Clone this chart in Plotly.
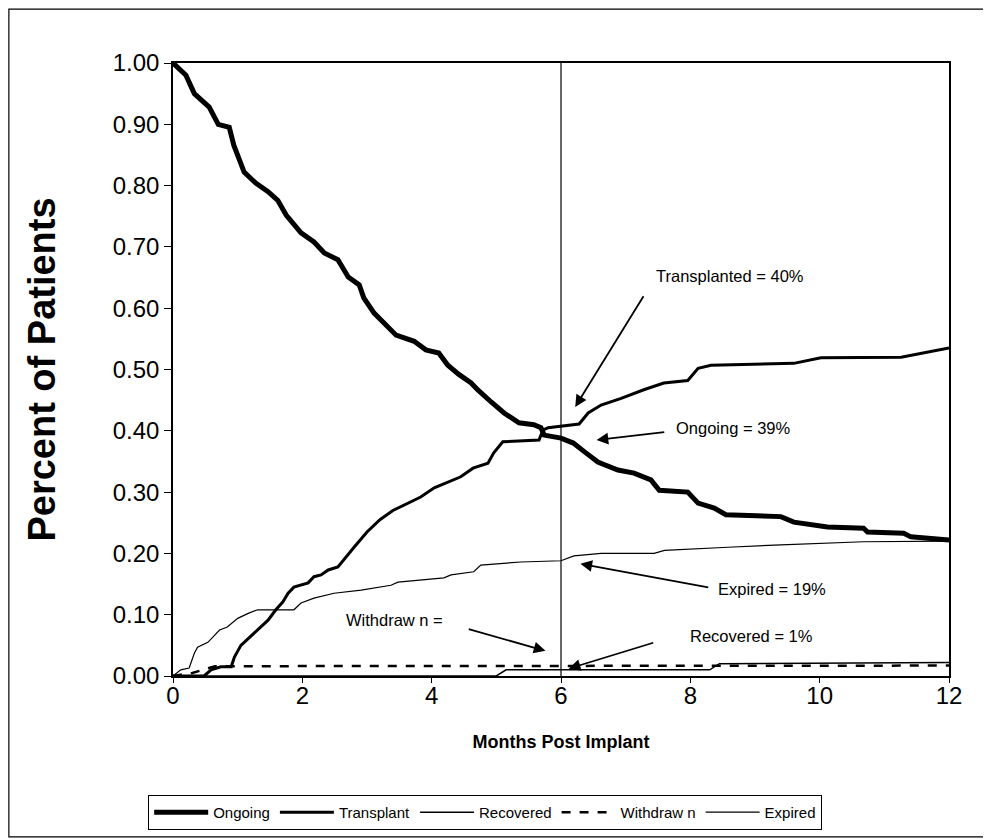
import plotly.graph_objects as go

# ---- data (months post implant, fraction of patients) ----
ongoing_m = [0, 0.05, 0.2, 0.33, 0.56, 0.70, 0.87, 0.94, 1.10, 1.28, 1.47, 1.62, 1.75, 1.98,
             2.18, 2.34, 2.55, 2.71, 2.88, 2.95, 3.11, 3.45, 3.73, 3.91, 4.11, 4.25, 4.42,
             4.61, 4.71, 4.92, 5.12, 5.35, 5.58, 5.69, 5.74, 6.0, 6.19, 6.36, 6.57, 6.88,
             7.13, 7.39, 7.52, 7.96, 8.12, 8.37, 8.55, 9.40, 9.60, 10.12, 10.68, 10.74,
             11.3, 11.41, 12.0]
ongoing_v = [1.00, 0.995, 0.98, 0.95, 0.928, 0.90, 0.895, 0.866, 0.822, 0.804, 0.79, 0.776,
             0.752, 0.723, 0.708, 0.69, 0.679, 0.651, 0.638, 0.617, 0.592, 0.556, 0.546,
             0.532, 0.527, 0.507, 0.492, 0.478, 0.467, 0.447, 0.429, 0.413, 0.41, 0.405,
             0.393, 0.388, 0.380, 0.366, 0.349, 0.336, 0.331, 0.32, 0.303, 0.300, 0.282,
             0.274, 0.263, 0.260, 0.251, 0.243, 0.241, 0.235, 0.233, 0.227, 0.222]

transplant_m = [0, 0.48, 0.59, 0.74, 0.9, 0.95, 1.05, 1.23, 1.36, 1.47, 1.59, 1.70, 1.78,
                1.87, 2.09, 2.18, 2.29, 2.40, 2.55, 2.64, 2.8, 3.0, 3.2, 3.4, 3.6, 3.83,
                4.04, 4.45, 4.64, 4.87, 4.96, 5.10, 5.66, 5.72, 5.80, 6.28, 6.42, 6.62,
                6.93, 7.28, 7.59, 7.96, 8.12, 8.32, 9.60, 10.02, 11.26, 12.0]
transplant_v = [0, 0, 0.01, 0.015, 0.015, 0.031, 0.05, 0.067, 0.08, 0.091, 0.108, 0.121,
                0.135, 0.145, 0.152, 0.162, 0.165, 0.173, 0.178, 0.189, 0.21, 0.235, 0.255,
                0.27, 0.28, 0.292, 0.307, 0.325, 0.339, 0.347, 0.364, 0.382, 0.385, 0.401,
                0.405, 0.411, 0.429, 0.442, 0.453, 0.467, 0.478, 0.482, 0.502, 0.507, 0.51,
                0.519, 0.52, 0.535]

recovered_m = [0, 5.0, 5.15, 8.3, 8.45, 12.0]
recovered_v = [0, 0, 0.01, 0.01, 0.02, 0.022]

withdrawn_m = [0, 0.3, 0.65, 12.0]
withdrawn_v = [0, 0.005, 0.016, 0.017]

expired_m = [0, 0.12, 0.25, 0.33, 0.38, 0.54, 0.72, 0.84, 1.0, 1.18, 1.31, 1.87, 1.98, 2.18,
             2.49, 2.91, 3.37, 3.48, 4.19, 4.30, 4.65, 4.76, 5.38, 6.0, 6.2, 6.62, 7.44,
             7.6, 8.58, 9.40, 10.68, 12.0]
expired_v = [0, 0.01, 0.013, 0.037, 0.047, 0.055, 0.075, 0.08, 0.094, 0.103, 0.108, 0.108,
             0.119, 0.127, 0.135, 0.14, 0.148, 0.153, 0.16, 0.165, 0.17, 0.181, 0.186, 0.188,
             0.196, 0.20, 0.20, 0.205, 0.21, 0.214, 0.219, 0.22]

y_ticks = [0.0, 0.1, 0.2, 0.3, 0.4, 0.5, 0.6, 0.7, 0.8, 0.9, 1.0]
x_ticks = [0, 2, 4, 6, 8, 10, 12]
cutoff_month = 6

FONT = "Liberation Sans, Arial, sans-serif"

fig = go.Figure()
fig.add_trace(go.Scatter(x=ongoing_m, y=ongoing_v, name="Ongoing", mode="lines",
                         line=dict(color="black", width=5), cliponaxis=False))
fig.add_trace(go.Scatter(x=transplant_m, y=transplant_v, name="Transplant", mode="lines",
                         line=dict(color="black", width=3), cliponaxis=False))
fig.add_trace(go.Scatter(x=recovered_m, y=recovered_v, name="Recovered", mode="lines",
                         line=dict(color="black", width=1.5), cliponaxis=False))
fig.add_trace(go.Scatter(x=withdrawn_m, y=withdrawn_v, name="Withdraw n", mode="lines",
                         line=dict(color="black", width=2.5, dash="dash"), cliponaxis=False))
fig.add_trace(go.Scatter(x=expired_m, y=expired_v, name="Expired", mode="lines",
                         line=dict(color="black", width=1.2), cliponaxis=False))

fig.add_shape(type="line", x0=cutoff_month, x1=cutoff_month, y0=0, y1=1,
              xref="x", yref="y", line=dict(color="black", width=1.2))
# outer frame
fig.add_shape(type="rect", xref="paper", yref="paper",
              x0=-0.2115, x1=1.06, y0=-0.2626, y1=1.088,
              line=dict(color="black", width=1.2), layer="below")

ANN = 16.5
notes = [
    # text, text x, text y, tip x, tip y, tail x, tail y
    ("Transplanted = 40%", 7.44, 0.652, 6.22, 0.439, 7.29, 0.622),
    ("Ongoing = 39%", 7.74, 0.405, 6.55, 0.385, 7.62, 0.398),
    ("Expired = 19%", 8.39, 0.142, 6.30, 0.183, 8.30, 0.144),
    ("Recovered = 1%", 7.96, 0.066, 6.12, 0.012, 7.45, 0.055),
    ("Withdraw n =", 2.64, 0.091, 5.76, 0.041, 4.55, 0.077),
]
for txt, tx, ty, hx, hy, ax_, ay_ in notes:
    fig.add_annotation(x=tx, y=ty, text=txt, showarrow=False, xanchor="left",
                       yanchor="middle", font=dict(family=FONT, size=ANN, color="black"))
    fig.add_annotation(x=hx, y=hy, ax=ax_, ay=ay_, axref="x", ayref="y", text="",
                       showarrow=True, arrowhead=2, arrowsize=1.3, arrowwidth=1.8,
                       arrowcolor="black")

fig.update_layout(
    width=991, height=839,
    margin=dict(l=165, r=50, t=55, b=171),
    paper_bgcolor="white", plot_bgcolor="white",
    font=dict(family=FONT, color="black"),
    showlegend=True,
    legend=dict(orientation="h", x=-0.032, xanchor="left", y=-0.194, yanchor="top",
                bordercolor="black", borderwidth=1, bgcolor="white",
                font=dict(family=FONT, size=15, color="black"),
                itemwidth=54, traceorder="normal"),
    xaxis=dict(range=[0, 12], tickvals=x_ticks, ticks="outside", ticklen=5,
               tickcolor="black", showline=True, linecolor="black", linewidth=1.5,
               mirror=True, showgrid=False, zeroline=False, ticklabelstandoff=-8,
               tickfont=dict(family=FONT, size=24),
               title=dict(text="<b>Months Post Implant</b>", standoff=28,
                          font=dict(family=FONT, size=18))),
    yaxis=dict(range=[0, 1], tickvals=y_ticks, tickformat=".2f", ticks="outside",
               ticklen=7, tickcolor="black", showline=True, linecolor="black",
               linewidth=1.5, mirror=True, showgrid=False, zeroline=False,
               tickfont=dict(family=FONT, size=24),
               title=dict(text="<b>Percent of Patients</b>", standoff=45,
                          font=dict(family=FONT, size=38))),
)

fig.write_html("out.html")
